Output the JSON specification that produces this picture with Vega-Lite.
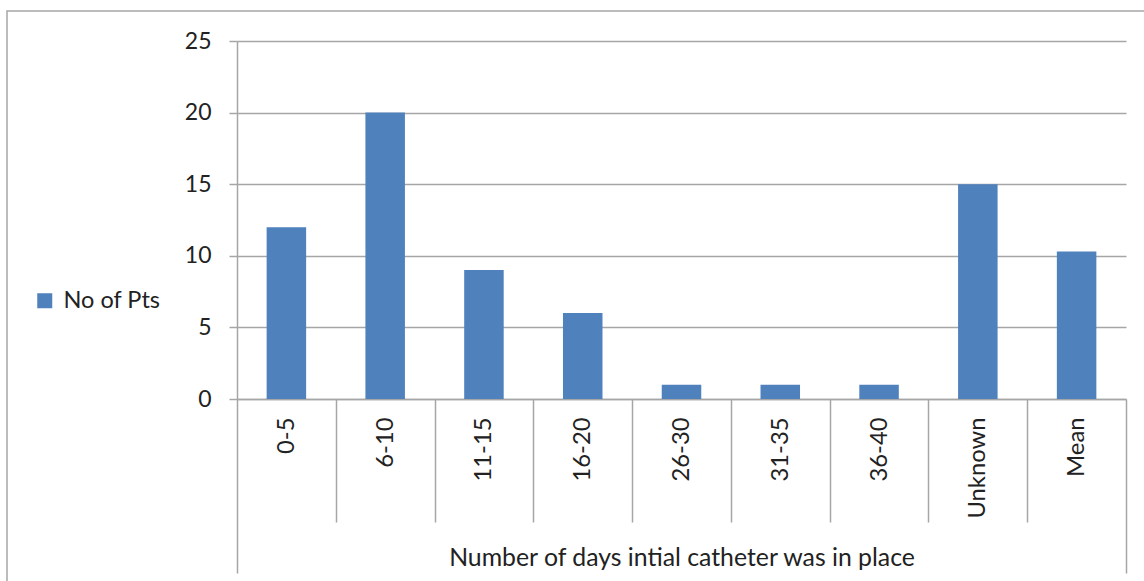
{
  "$schema": "https://vega.github.io/schema/vega-lite/v6.json",
  "width": 1143,
  "height": 576,
  "autosize": {"type": "none"},
  "padding": {"left": 7, "top": 11, "right": -6, "bottom": -6},
  "background": "white",
  "config": {"view": {"stroke": "#A6A6A6", "strokeWidth": 1.5}, "font": "Lato"},
  "data": {
    "values": [
      {"category": "0-5", "value": 12, "series": "No of Pts"},
      {"category": "6-10", "value": 20, "series": "No of Pts"},
      {"category": "11-15", "value": 9, "series": "No of Pts"},
      {"category": "16-20", "value": 6, "series": "No of Pts"},
      {"category": "26-30", "value": 1, "series": "No of Pts"},
      {"category": "31-35", "value": 1, "series": "No of Pts"},
      {"category": "36-40", "value": 1, "series": "No of Pts"},
      {"category": "Unknown", "value": 15, "series": "No of Pts"},
      {"category": "Mean", "value": 10.3, "series": "No of Pts"}
    ]
  },
  "mark": {"type": "bar", "width": {"band": 0.4}},
  "encoding": {
    "x": {
      "field": "category",
      "type": "nominal",
      "sort": null,
      "scale": {"range": [230, 1119], "paddingInner": 0, "paddingOuter": 0},
      "axis": {
        "title": "Number of days intial catheter was in place",
        "offset": -188,
        "labelAngle": -90,
        "labelFont": "Lato",
        "labelFontSize": 23.8,
        "labelColor": "#222222",
        "labelPadding": {"condition": {"test": "datum.value === 'Mean'", "value": -156}, "value": -105},
        "tickBand": "extent",
        "tickSize": {"condition": {"test": "datum.extra || datum.value === 'Mean'", "value": 174}, "value": 123},
        "tickColor": "#A6A6A6",
        "tickWidth": 1.5,
        "domainColor": "#A6A6A6",
        "domainWidth": 1.5,
        "titleFont": "Lato",
        "titleFontSize": 24.8,
        "titleFontWeight": "normal",
        "titleColor": "#222222",
        "titleY": 166,
        "titleBaseline": "alphabetic",
        "grid": false
      }
    },
    "y": {
      "field": "value",
      "type": "quantitative",
      "scale": {"domain": [0, 25], "range": [388, 30], "nice": false},
      "axis": {
        "title": null,
        "values": [0, 5, 10, 15, 20, 25],
        "offset": -230,
        "tickSize": 8,
        "tickColor": "#A6A6A6",
        "tickWidth": 1.5,
        "domainColor": "#A6A6A6",
        "domainWidth": 1.5,
        "grid": true,
        "gridColor": "#A6A6A6",
        "gridWidth": 1.5,
        "labelFont": "Lato",
        "labelFontSize": 23,
        "labelColor": "#222222",
        "labelPadding": 18
      }
    },
    "color": {
      "field": "series",
      "type": "nominal",
      "scale": {"range": ["#4F81BD"]},
      "legend": {
        "orient": "none",
        "legendX": 26,
        "legendY": 278,
        "title": null,
        "symbolType": "square",
        "symbolSize": 225,
        "symbolStrokeWidth": 0,
        "symbolOpacity": 1,
        "labelFont": "Lato",
        "labelFontSize": 23.5,
        "labelColor": "#222222",
        "labelOffset": 7,
        "padding": 0
      }
    }
  }
}
